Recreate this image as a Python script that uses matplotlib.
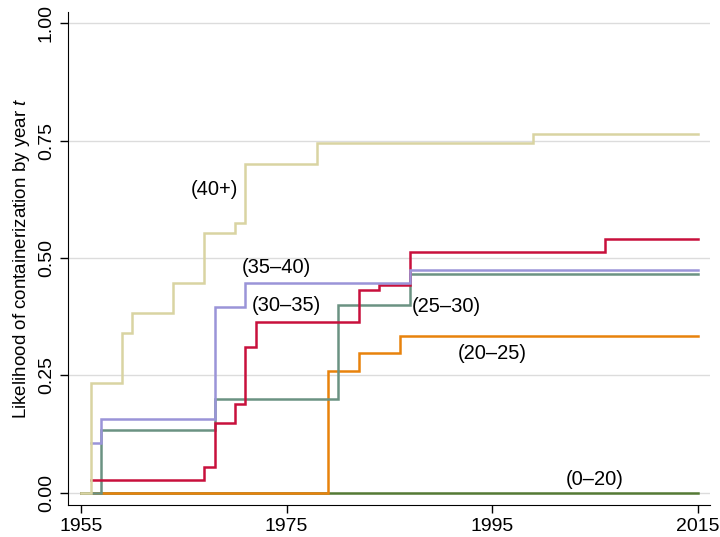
import numpy as np
import matplotlib
matplotlib.use("Agg")
import matplotlib.pyplot as plt

plt.rcParams['font.family'] = ['Liberation Sans', 'DejaVu Sans']
plt.rcParams['mathtext.fontset'] = 'custom'
plt.rcParams['mathtext.it'] = 'Liberation Sans:italic'
plt.rcParams['mathtext.rm'] = 'Liberation Sans'

# step functions: year of each step and likelihood from that year on
years_0_20 = [1955, 2015]
vals_0_20 = [0.0, 0.0]

years_20_25 = [1955, 1979, 1982, 1986, 2015]
vals_20_25 = [0.0, 0.260, 0.297, 0.334, 0.334]

years_25_30 = [1955, 1957, 1968, 1980, 1987, 2015]
vals_25_30 = [0.0, 0.134, 0.200, 0.400, 0.467, 0.467]

years_30_35 = [1956, 1967, 1968, 1970, 1971, 1972, 1982, 1984, 1987, 2006, 2015]
vals_30_35 = [0.027, 0.054, 0.149, 0.189, 0.311, 0.364, 0.432, 0.442, 0.513, 0.540, 0.540]

years_35_40 = [1956, 1957, 1968, 1971, 1987, 2015]
vals_35_40 = [0.106, 0.158, 0.395, 0.447, 0.474, 0.474]

years_40 = [1955, 1956, 1959, 1960, 1964, 1967, 1970, 1971, 1978, 1999, 2015]
vals_40 = [0.0, 0.234, 0.341, 0.383, 0.447, 0.553, 0.575, 0.701, 0.745, 0.765, 0.765]

series = [
    (years_0_20, vals_0_20, '#557a35'),
    (years_20_25, vals_20_25, '#e8820c'),
    (years_25_30, vals_25_30, '#6b9282'),
    (years_30_35, vals_30_35, '#c8103c'),
    (years_35_40, vals_35_40, '#9a94d8'),
    (years_40, vals_40, '#d9d4a2'),
]

labels = ['(0\u201320)', '(20\u201325)', '(25\u201330)', '(30\u201335)', '(35\u201340)', '(40+)']
label_x = [2005.0, 1995.0, 1990.5, 1975.0, 1974.0, 1968.0]
label_y = [0.029, 0.297, 0.396, 0.398, 0.48, 0.645]

fig = plt.figure(figsize=(7.2, 5.37), dpi=100)
ax = fig.add_axes([0.0944, 0.0596, 0.8916, 0.918])

for yrs, vals, col in series:
    ax.step(yrs, vals, where='post', color=col, lw=1.8, solid_joinstyle='miter')

for lab, lx, ly in zip(labels, label_x, label_y):
    ax.text(lx, ly, lab, fontsize=14.5, ha='center', va='center')

ax.set_xlim(1953.74, 2016.17)
ax.set_ylim(-0.026, 1.024)
ax.set_xticks([1955, 1975, 1995, 2015])
ax.set_yticks([0, 0.25, 0.5, 0.75, 1.0])
ax.set_yticklabels(['0.00', '0.25', '0.50', '0.75', '1.00'], rotation=90, va='center')
ax.tick_params(axis='both', labelsize=14, length=6, width=1, direction='out')
ax.set_ylabel('Likelihood of containerization by year $t$', fontsize=13.5)

ax.grid(axis='y', color='#dcdcdc', lw=1)
ax.set_axisbelow(True)
for s in ['top', 'right']:
    ax.spines[s].set_visible(False)

fig.savefig('out.png', dpi=100)
